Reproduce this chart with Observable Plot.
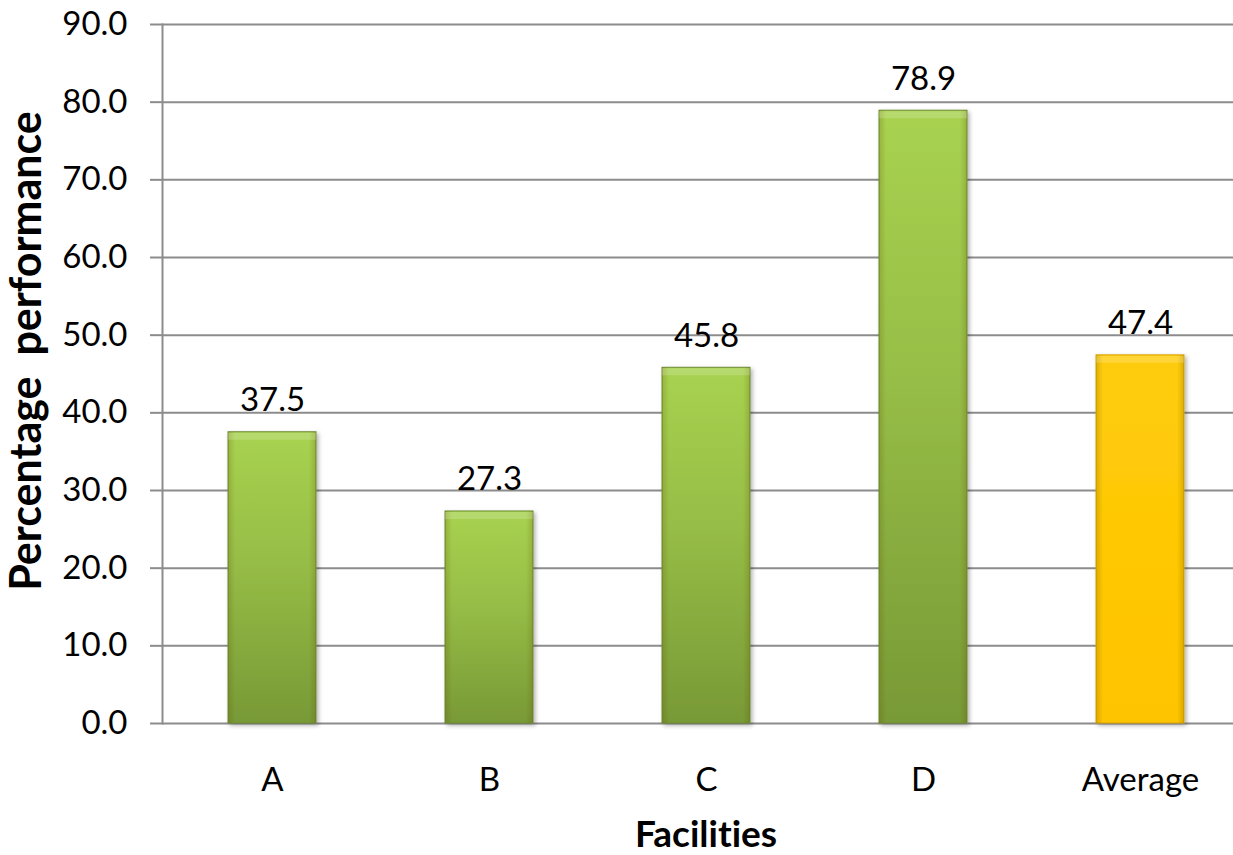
<!DOCTYPE html>
<html><head><meta charset="utf-8">
<script src="https://cdn.jsdelivr.net/npm/d3@7"></script>
<script src="https://cdn.jsdelivr.net/npm/@observablehq/plot@0.6"></script>
<style>
html,body{margin:0;padding:0;background:#fff;overflow:hidden}
#chart svg{display:block}
#chart svg text{white-space:pre;font-variant-ligatures:none;font-feature-settings:"liga" 0}
</style>
</head><body><div id="chart"></div>
<script>
const categories = ["A", "B", "C", "D", "Average"];
const values = [37.5, 27.3, 45.8, 78.9, 47.4];
const groups = ["Facility", "Facility", "Facility", "Facility", "Average"];
const yTicks = [0, 10, 20, 30, 40, 50, 60, 70, 80, 90];
const yTitle = "Percentage  performance";
const xTitle = "Facilities";

const data = categories.map((c, i) => ({category: c, value: values[i], group: groups[i]}));
const font = "Lato, 'Open Sans', sans-serif";
const grid = "#8c8c8c";

const chart = Plot.plot({
  width: 1233, height: 855,
  marginLeft: 162, marginRight: 0, marginTop: 24, marginBottom: 132,
  style: {fontFamily: font, fontSize: "32px", color: "#000", background: "#fff"},
  x: {domain: categories, range: [162, 1249], paddingInner: 0.595, paddingOuter: 0.2975, label: null},
  y: {domain: [0, 90], label: null},
  marks: [
    Plot.ruleY(yTicks, {stroke: grid, strokeWidth: 2}),
    Plot.frame({anchor: "left", stroke: grid, strokeWidth: 2}),
    Plot.axisY({ticks: yTicks, tickSize: 12, tickPadding: 23, tickFormat: d3.format(".1f"),
      stroke: grid, strokeWidth: 2, fill: "#000", fontSize: 33, label: null}),
    Plot.axisX({tickSize: 0, tickPadding: 44, fill: "#000", fontSize: 33, label: null}),
    Plot.barY(data, {filter: d => d.group === "Facility", x: "category", y: "value",
      fill: "url(#gGreen)", stroke: "#6f8c33", strokeWidth: 1}),
    Plot.barY(data, {filter: d => d.group === "Average", x: "category", y: "value",
      fill: "url(#gGold)", stroke: "#d9a300", strokeWidth: 1}),
    Plot.barY(data, {x: "category", y: "value", fill: "url(#gSide)"}),
    Plot.tickY(data, {x: "category", y: "value", dy: 4, strokeWidth: 7, stroke: "rgba(255,255,255,0.18)"}),
    Plot.text(data, {x: "category", y: "value", text: d => d.value.toFixed(1), dy: -21,
      lineAnchor: "bottom", fontSize: 33, fill: "#000"}),
    Plot.text([yTitle], {text: d => d, frameAnchor: "left", textAnchor: "middle", rotate: -90,
      dx: -135, dy: -23, fontWeight: "bold", fontSize: 43, fill: "#000"}),
    Plot.text([xTitle], {text: d => d, frameAnchor: "bottom", dx: 8, dy: 123, lineAnchor: "bottom",
      fontWeight: "bold", fontSize: 37, fill: "#000"})
  ]
});

const svg = d3.select(chart);
const defs = svg.insert("defs", ":first-child");
function vgrad(id, stops) {
  const g = defs.append("linearGradient").attr("id", id).attr("x1", 0).attr("y1", 0).attr("x2", 0).attr("y2", 1);
  stops.forEach(([o, c]) => g.append("stop").attr("offset", o).attr("stop-color", c));
}
vgrad("gGreen", [["0%", "#a8d250"], ["45%", "#96bd46"], ["100%", "#789936"]]);
vgrad("gGold", [["0%", "#ffcc0a"], ["100%", "#ffc400"]]);
const side = defs.append("linearGradient").attr("id", "gSide").attr("x1", 0).attr("y1", 0).attr("x2", 1).attr("y2", 0);
[["0%", 0.22], ["8%", 0], ["92%", 0], ["100%", 0.22]].forEach(([o, a]) =>
  side.append("stop").attr("offset", o).attr("stop-color", "#5a4a00").attr("stop-opacity", a));
const f = defs.append("filter").attr("id", "shadow").attr("x", "-20%").attr("y", "-20%").attr("width", "140%").attr("height", "140%");
f.append("feDropShadow").attr("dx", 2).attr("dy", 2).attr("stdDeviation", 2).attr("flood-opacity", 0.3);
svg.selectAll('g[aria-label="bar"]').filter((d, i) => i < 2).attr("filter", "url(#shadow)");

document.getElementById("chart").append(chart);
</script>
</body></html>
